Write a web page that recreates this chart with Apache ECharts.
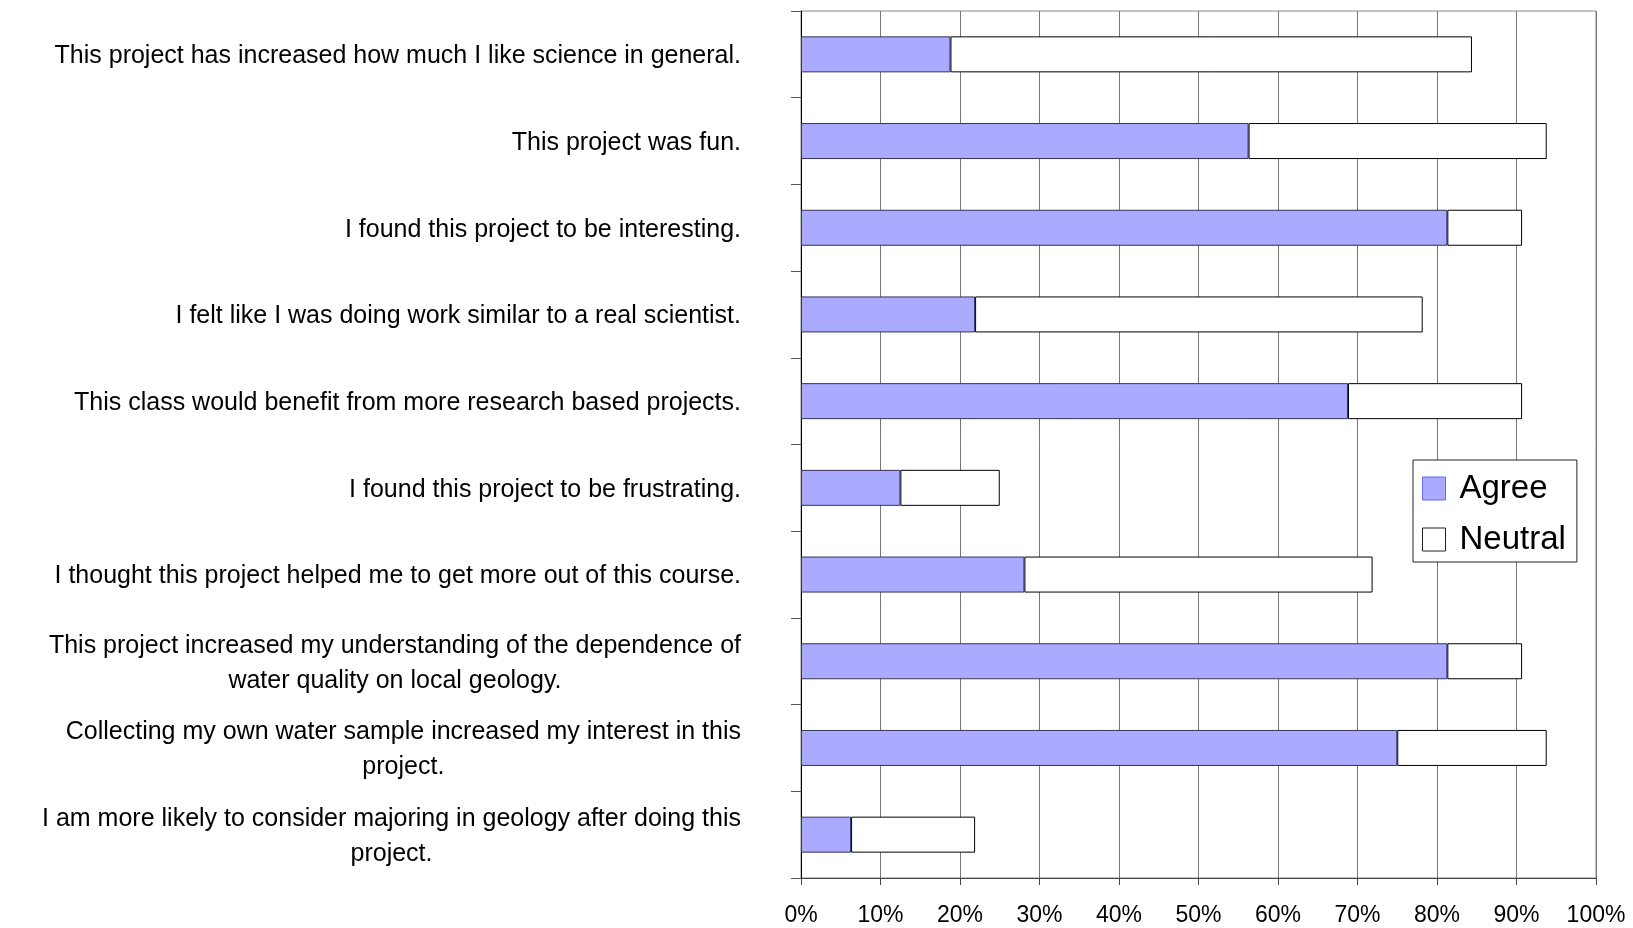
<!DOCTYPE html>
<html>
<head>
<meta charset="utf-8">
<title>Project survey</title>
<script src="https://cdn.jsdelivr.net/npm/echarts@6.0.0/dist/echarts.min.js"></script>
<style>
    body { margin: 0; background: #fff; }
    #echart_canvas { width: 1633px; height: 928px; }
</style>
</head>
<body>
<div id="echart_canvas"></div>
<script>
// survey statements, top to bottom
let statements = [
    'This project has increased how much I like science in general.',
    'This project was fun.',
    'I found this project to be interesting.',
    'I felt like I was doing work similar to a real scientist.',
    'This class would benefit from more research based projects.',
    'I found this project to be frustrating.',
    'I thought this project helped me to get more out of this course.',
    'This project increased my understanding of the dependence of\nwater quality on local geology.',
    'Collecting my own water sample increased my interest in this\nproject.',
    'I am more likely to consider majoring in geology after doing this\nproject.'
];
// percent of students
let agreeValues = [18.8, 56.3, 81.3, 21.9, 68.8, 12.5, 28.1, 81.3, 75.0, 6.3];
let neutralValues = [65.6, 37.5, 9.4, 56.3, 21.9, 12.5, 43.8, 9.4, 18.8, 15.6];
let seriesNames = ['Agree', 'Neutral'];
// x axis ticks: 0% .. 100% by 10
let tickMin = 0;
let tickMax = 100;
let tickStep = 10;

let fontName = 'Arial, "Liberation Sans", sans-serif';

function labelLines(value) {
    // centre every line inside the label block, like the original sheet
    return value.split('\n').map(function (line) {
        return '{c|' + line + '}';
    }).join('\n');
}

function renderChart() {
    let myChart = echarts.init(document.getElementById('echart_canvas'));
    let option = {
        animation: false,
        backgroundColor: '#fff',
        grid: {
            left: 801,
            top: 11,
            width: 795,
            height: 867,
            show: true,
            borderColor: '#888',
            borderWidth: 1,
            backgroundColor: 'transparent',
            outerBoundsMode: 'none'
        },
        legend: {
            data: [
                {name: seriesNames[0], itemStyle: {borderColor: '#6666ee', borderWidth: 1}},
                {name: seriesNames[1], itemStyle: {borderColor: '#222', borderWidth: 1}}
            ],
            orient: 'vertical',
            left: 1413,
            top: 460,
            padding: [12, 11, 6, 9],
            icon: 'rect',
            itemWidth: 23,
            itemHeight: 23,
            itemGap: 18,
            backgroundColor: '#fff',
            borderColor: '#222',
            borderWidth: 1,
            textStyle: {
                fontFamily: fontName,
                fontSize: 33,
                color: '#000',
                padding: [0, 0, 0, 9]
            }
        },
        xAxis: {
            type: 'value',
            min: tickMin,
            max: tickMax,
            interval: tickStep,
            axisLine: {show: true, lineStyle: {color: '#444', width: 1}},
            axisTick: {show: true, length: 7, lineStyle: {color: '#444'}},
            splitLine: {show: true, lineStyle: {color: '#777', width: 1}},
            axisLabel: {
                formatter: '{value}%',
                fontFamily: fontName,
                fontSize: 23,
                color: '#000',
                margin: 26
            }
        },
        yAxis: {
            type: 'category',
            data: statements,
            inverse: true,
            axisLine: {show: true, lineStyle: {color: '#000', width: 1}},
            axisTick: {show: true, length: 10, lineStyle: {color: '#555'}},
            splitLine: {show: false},
            axisLabel: {
                margin: 60,
                align: 'right',
                padding: [4, 0, 0, 0],
                formatter: labelLines,
                rich: {
                    c: {
                        align: 'center',
                        fontFamily: fontName,
                        fontSize: 25,
                        lineHeight: 35,
                        color: '#000'
                    }
                }
            }
        },
        series: [
            {
                name: seriesNames[0],
                type: 'bar',
                stack: 'total',
                barWidth: 36,
                data: agreeValues,
                itemStyle: {color: '#aaaaff', borderColor: '#333355', borderWidth: 1}
            },
            {
                name: seriesNames[1],
                type: 'bar',
                stack: 'total',
                barWidth: 36,
                data: neutralValues,
                itemStyle: {color: '#fff', borderColor: '#000', borderWidth: 1}
            }
        ]
    };
    myChart.setOption(option);
}

renderChart();
</script>
</body>
</html>
